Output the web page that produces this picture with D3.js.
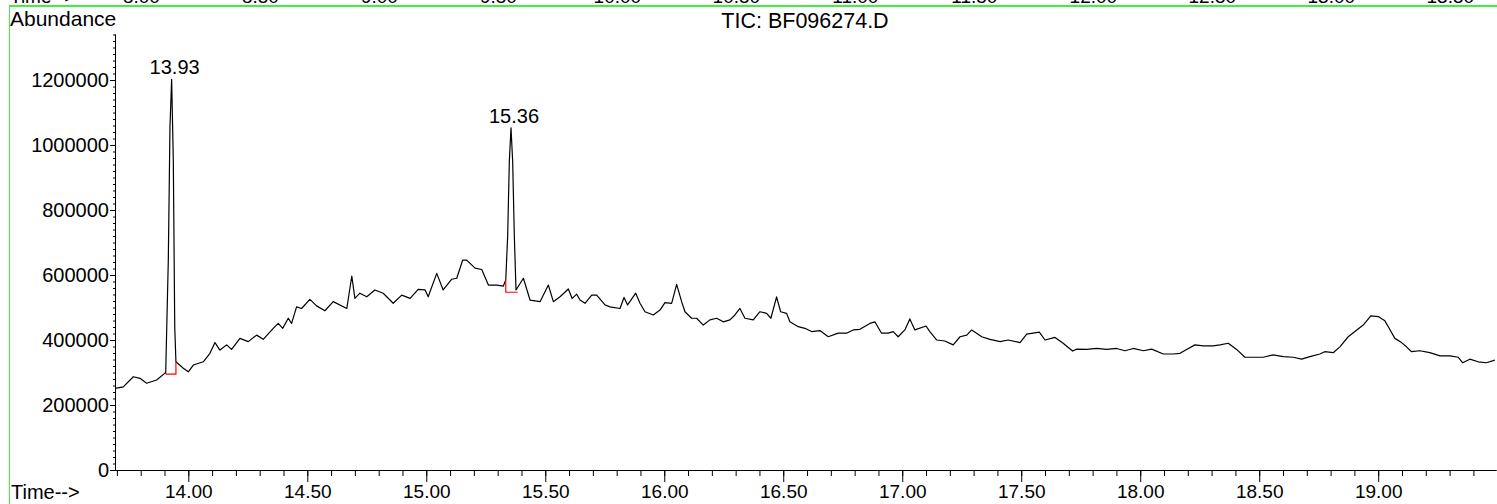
<!DOCTYPE html>
<html>
<head>
<meta charset="utf-8">
<script src="https://cdn.jsdelivr.net/npm/d3@7"></script>
<style>
  body { margin: 0; background: #fff; }
  svg { display: block; font-family: "Liberation Sans", Arial, sans-serif; }
</style>
</head>
<body>
<script>
'use strict';

var width = 1497,
    height = 504;

// retention time (min) and abundance
var times = [
  13.692, 13.727, 13.769, 13.797, 13.825, 13.867, 13.902, 13.905, 13.916, 13.923,
  13.930, 13.937, 13.943, 13.948, 13.979, 14.000, 14.021, 14.063, 14.091, 14.112,
  14.133, 14.161, 14.182, 14.217, 14.252, 14.287, 14.315, 14.357, 14.378, 14.397,
  14.420, 14.434, 14.455, 14.476, 14.511, 14.539, 14.574, 14.609, 14.666, 14.687,
  14.700, 14.721, 14.750, 14.784, 14.819, 14.861, 14.897, 14.932, 14.966, 14.995,
  15.008, 15.044, 15.071, 15.107, 15.128, 15.153, 15.170, 15.205, 15.233, 15.261,
  15.296, 15.324, 15.334, 15.342, 15.349, 15.356, 15.363, 15.370, 15.377, 15.408,
  15.436, 15.478, 15.513, 15.534, 15.562, 15.597, 15.613, 15.632, 15.646, 15.667,
  15.695, 15.716, 15.751, 15.772, 15.814, 15.831, 15.846, 15.880, 15.898, 15.919,
  15.954, 15.982, 16.003, 16.031, 16.052, 16.073, 16.087, 16.115, 16.136, 16.164,
  16.192, 16.220, 16.248, 16.276, 16.297, 16.318, 16.339, 16.374, 16.402, 16.430,
  16.448, 16.472, 16.489, 16.514, 16.528, 16.563, 16.591, 16.619, 16.654, 16.689,
  16.731, 16.766, 16.794, 16.822, 16.864, 16.885, 16.913, 16.941, 16.962, 16.983,
  17.011, 17.032, 17.053, 17.100, 17.116, 17.145, 17.179, 17.214, 17.243, 17.271,
  17.292, 17.334, 17.369, 17.411, 17.445, 17.495, 17.523, 17.550, 17.576, 17.600,
  17.642, 17.676, 17.716, 17.733, 17.775, 17.817, 17.859, 17.901, 17.936, 17.971,
  18.013, 18.048, 18.097, 18.139, 18.167, 18.195, 18.230, 18.265, 18.307, 18.335,
  18.370, 18.405, 18.440, 18.475, 18.517, 18.559, 18.601, 18.643, 18.678, 18.713,
  18.755, 18.775, 18.811, 18.839, 18.874, 18.902, 18.937, 18.969, 19.000, 19.028,
  19.046, 19.070, 19.098, 19.119, 19.140, 19.175, 19.217, 19.260, 19.302, 19.336,
  19.355, 19.385, 19.420, 19.455, 19.490
];

var abundance = [
  251000, 256000, 287000, 282000, 267000, 277000, 298000, 298000, 646000, 1056000,
  1202000, 954000, 441000, 333000, 313000, 302000, 323000, 333000, 359000, 392000,
  369000, 385000, 371000, 405000, 395000, 415000, 402000, 436000, 451000, 436000,
  467000, 451000, 502000, 497000, 525000, 505000, 490000, 518000, 497000, 597000,
  528000, 544000, 533000, 554000, 544000, 513000, 538000, 528000, 556000, 554000,
  533000, 605000, 554000, 587000, 590000, 646000, 646000, 621000, 617000, 569000,
  569000, 566000, 585000, 720000, 950000, 1053000, 950000, 720000, 554000, 590000,
  523000, 518000, 569000, 518000, 533000, 557000, 528000, 541000, 523000, 513000,
  538000, 538000, 508000, 502000, 497000, 531000, 508000, 544000, 513000, 487000,
  477000, 492000, 515000, 513000, 571000, 518000, 487000, 467000, 467000, 446000,
  462000, 467000, 456000, 462000, 477000, 497000, 467000, 462000, 487000, 482000,
  467000, 533000, 487000, 482000, 456000, 441000, 436000, 426000, 429000, 410000,
  421000, 421000, 431000, 433000, 451000, 456000, 421000, 421000, 426000, 410000,
  431000, 465000, 431000, 443000, 426000, 400000, 397000, 385000, 410000, 415000,
  431000, 410000, 402000, 395000, 400000, 392000, 418000, 421000, 424000, 400000,
  408000, 390000, 366000, 372000, 371000, 374000, 371000, 374000, 367000, 374000,
  367000, 372000, 357000, 357000, 359000, 371000, 385000, 382000, 382000, 385000,
  390000, 371000, 347000, 347000, 347000, 354000, 349000, 347000, 341000, 349000,
  357000, 364000, 361000, 379000, 410000, 426000, 446000, 474000, 472000, 459000,
  436000, 405000, 392000, 379000, 364000, 367000, 361000, 351000, 351000, 347000,
  330000, 341000, 333000, 330000, 338000
];

// integrated peaks: label, apex, and the red baseline drawn under each
var peakLabels = ['13.93', '15.36'];
var peakTimes = [13.930, 15.356];
var peakApex = [1202000, 1053000];
var baseTimes = [[13.905, 13.948, 13.948], [15.334, 15.334, 15.384]];
var baseValues = [[295000, 295000, 333000], [585000, 547000, 547000]];

var xMajor = [14.0, 14.5, 15.0, 15.5, 16.0, 16.5, 17.0, 17.5, 18.0, 18.5, 19.0];
var yMajor = [0, 200000, 400000, 600000, 800000, 1000000, 1200000];

// axis of the panel above, mostly cut off by the window edge
var prevLabels = ['8.00', '8.50', '9.00', '9.50', '10.00', '10.50', '11.00', '11.50', '12.00', '12.50', '13.00', '13.50'];

var svg = d3.select('body').append('svg')
    .attr('width', width)
    .attr('height', height);

var x = d3.scaleLinear().domain([13.692, 19.495]).range([115, 1496]);
var y = d3.scaleLinear().domain([0, 1341600]).range([470, 34]);
var xPrev = d3.scaleLinear().domain([7.889, 13.692]).range([115, 1496]);

// previous panel's time labels peeking in at the top
svg.append('text')
    .attr('x', 10).attr('y', 3)
    .attr('font-size', 19)
    .text('Time-->');
svg.selectAll('.prev')
    .data(prevLabels).enter()
  .append('text')
    .attr('class', 'prev')
    .attr('x', function(d) { return xPrev(+d); })
    .attr('y', 3)
    .attr('text-anchor', 'middle')
    .attr('font-size', 19)
    .text(function(d) { return d; });

// green frame
svg.append('line')
    .attr('x1', 9).attr('x2', width).attr('y1', 6).attr('y2', 6)
    .attr('stroke', '#40f040').attr('stroke-width', 2);
svg.append('line')
    .attr('x1', 9.5).attr('x2', 9.5).attr('y1', 6).attr('y2', height)
    .attr('stroke', '#40f040').attr('stroke-width', 1);

// x axis: minor every 0.1 min, major every 0.5
var xMinor = d3.range(137, 195).map(function(i) { return i / 10; });
svg.append('g')
    .attr('transform', 'translate(0,470)')
    .call(d3.axisBottom(x).tickValues(xMinor).tickSize(6).tickSizeOuter(0).tickFormat(''));
var xAxis = svg.append('g')
    .attr('transform', 'translate(0,470)')
    .call(d3.axisBottom(x).tickValues(xMajor).tickSize(12).tickSizeOuter(0).tickPadding(3)
      .tickFormat(d3.format('.2f')));
xAxis.selectAll('text').attr('font-size', 19).attr('font-family', null).attr('fill', '#000');

// y axis
var yMinor = d3.range(0, 1341600, 20000);
svg.append('g')
    .attr('transform', 'translate(115,0)')
    .call(d3.axisLeft(y).tickValues(yMinor).tickSize(2).tickSizeOuter(0).tickFormat(''));
var yAxis = svg.append('g')
    .attr('transform', 'translate(115,0)')
    .call(d3.axisLeft(y).tickValues(yMajor).tickSize(5).tickSizeOuter(0).tickPadding(1)
      .tickFormat(d3.format('d')));
yAxis.selectAll('text').attr('font-size', 20).attr('font-family', null).attr('fill', '#000');
svg.selectAll('.domain').attr('stroke', '#000');

svg.append('text')
    .attr('x', 11).attr('y', 499)
    .attr('font-size', 20)
    .text('Time-->');
svg.append('text')
    .attr('x', 10).attr('y', 26)
    .attr('font-size', 21)
    .text('Abundance');
svg.append('text')
    .attr('x', 805).attr('y', 28)
    .attr('text-anchor', 'middle')
    .attr('font-size', 21.5)
    .text('TIC: BF096274.D');

// trace
var line = d3.line()
    .x(function(d, i) { return x(times[i]); })
    .y(function(d) { return y(d); });

svg.append('path')
    .datum(abundance)
    .attr('fill', 'none')
    .attr('stroke', '#000')
    .attr('stroke-width', 1.2)
    .attr('stroke-linejoin', 'round')
    .attr('d', line);

// red integration baselines
baseTimes.forEach(function(ts, k) {
  svg.append('path')
      .attr('fill', 'none')
      .attr('stroke', '#ff0000')
      .attr('stroke-width', 1.2)
      .attr('d', d3.line()
        .x(function(d, i) { return x(ts[i]); })
        .y(function(d) { return y(d); })(baseValues[k]));
});

svg.selectAll('.peak')
    .data(peakLabels).enter()
  .append('text')
    .attr('class', 'peak')
    .attr('x', function(d, i) { return x(peakTimes[i]) + 3; })
    .attr('y', function(d, i) { return y(peakApex[i]) - 5; })
    .attr('text-anchor', 'middle')
    .attr('font-size', 20)
    .text(function(d) { return d; });
</script>
</body>
</html>
